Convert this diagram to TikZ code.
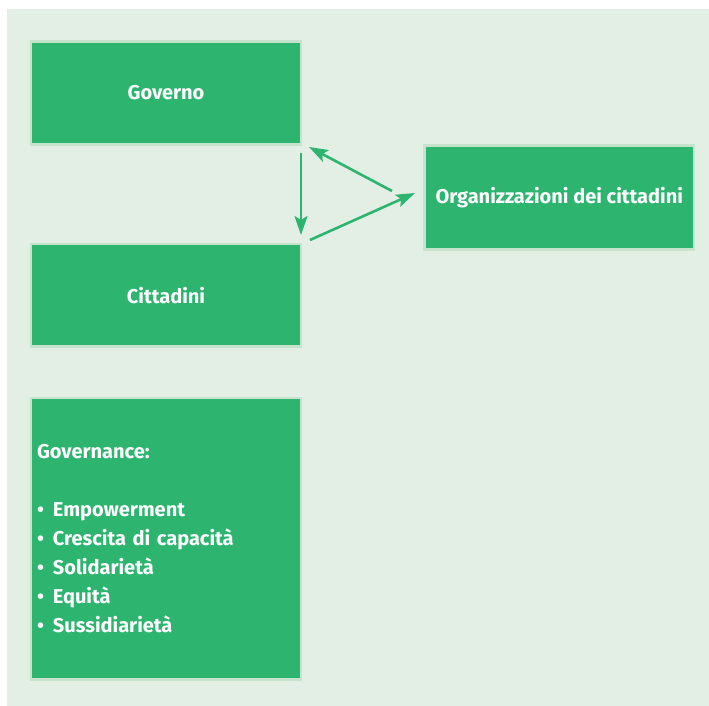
\documentclass[tikz,border=0pt]{standalone}
\usepackage{fontspec}
\setmainfont{Fira Sans}
\usetikzlibrary{arrows.meta}
\definecolor{boxgreen}{HTML}{2DB570}
\definecolor{boxedge}{HTML}{C6E4CD}
\definecolor{bgpale}{HTML}{E3EFE4}
\tikzset{
  greenbox/.style={draw=boxedge, line width=2.5pt, fill=boxgreen, text=white,
    font=\fontsize{20}{29}\selectfont\bfseries, inner sep=5pt, outer sep=0pt},
  flow/.style={draw=boxgreen, line width=2.6pt,
    -{Stealth[length=19pt,width=13pt,inset=4pt]}, shorten >=0pt}
}
\begin{document}
\begin{tikzpicture}[x=1pt,y=-1pt]
  \fill[white] (0,0) rectangle (709,706);
  \useasboundingbox (0,0) rectangle (709,706);
  \fill[bgpale] (7,9) rectangle (709,706);

  \node[greenbox, minimum width=270pt, minimum height=103pt] (gov) at (166,93) {Governo};
  \node[greenbox, minimum width=270pt, minimum height=102.5pt] (cit) at (166,295.25) {Cittadini};
  \node[greenbox, minimum width=269.5pt, minimum height=104pt, inner xsep=2pt] (org) at (559.25,197.5) {Organizzazioni dei cittadini};
  \node[greenbox, minimum width=270pt, minimum height=281.5pt, text width=258pt, align=left, inner xsep=6pt] (gvn) at (166,538.75)
    {Governance:\\[29pt]
     •\hspace{9pt}Empowerment\\
     •\hspace{9pt}Crescita di capacità\\
     •\hspace{9pt}Solidarietà\\
     •\hspace{9pt}Equità\\
     •\hspace{9pt}Sussidiarietà};

  \draw[flow] ([yshift=-8.5pt]gov.south east) -- ([yshift=9pt]cit.north east);
  \draw[flow] ([xshift=-32.5pt,yshift=6.5pt]org.west) -- ([xshift=8pt,yshift=-2.5pt]gov.south east);
  \draw[flow] ([xshift=9pt,yshift=4pt]cit.north east) -- ([xshift=-9.5pt,yshift=4.5pt]org.west);
\end{tikzpicture}
\end{document}
